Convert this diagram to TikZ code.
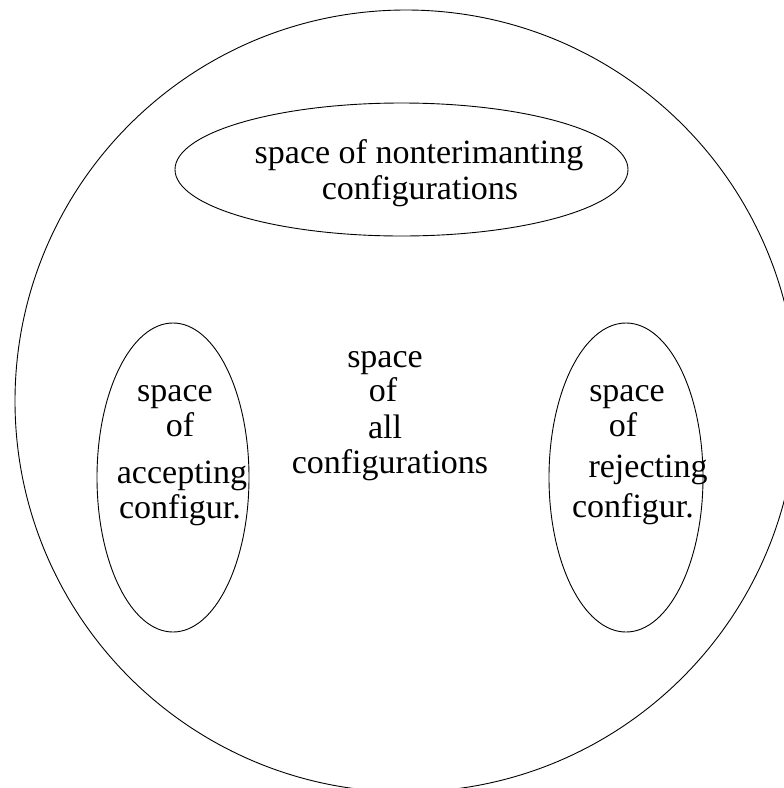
\documentclass[tikz,border=0pt]{standalone}
\usepackage{fontspec}
\setmainfont{Liberation Serif}
\begin{document}
\begin{tikzpicture}[x=1pt,y=-1pt,
  shape line/.style={draw=black,line width=0.9pt},
  label text/.style={inner sep=0pt,anchor=base,font=\fontsize{34}{40}\selectfont}]
\useasboundingbox (0,0) rectangle (784,788);
\clip (0,0) rectangle (784,788);
% outer circle and regions
\draw[shape line] (406,401) circle [radius=391pt];
\draw[shape line] (401.5,169.5) ellipse [x radius=226.5pt, y radius=66.5pt];
\draw[shape line] (173,477.5) ellipse [x radius=76pt, y radius=154.5pt];
\draw[shape line] (626,477.5) ellipse [x radius=77pt, y radius=154.5pt];
% top ellipse text
\node[label text] (t1) at (419,163) {space of nonterimanting};
\node[label text] (t2) at (420,199) {configurations};
% centre text
\node[label text] (c1) at (385,367) {space};
\node[label text] (c2) at (383,401) {of};
\node[label text] (c3) at (385,438) {all};
\node[label text] (c4) at (390,473) {configurations};
% left ellipse text
\node[label text] (l1) at (175,401) {space};
\node[label text] (l2) at (180,436) {of};
\node[label text] (l3) at (182,483) {accepting};
\node[label text] (l4) at (180,518) {configur.};
% right ellipse text
\node[label text] (r1) at (627,401) {space};
\node[label text] (r2) at (623,436) {of};
\node[label text] (r3) at (648,477) {rejecting};
\node[label text] (r4) at (633,517) {configur.};
\end{tikzpicture}
\end{document}
